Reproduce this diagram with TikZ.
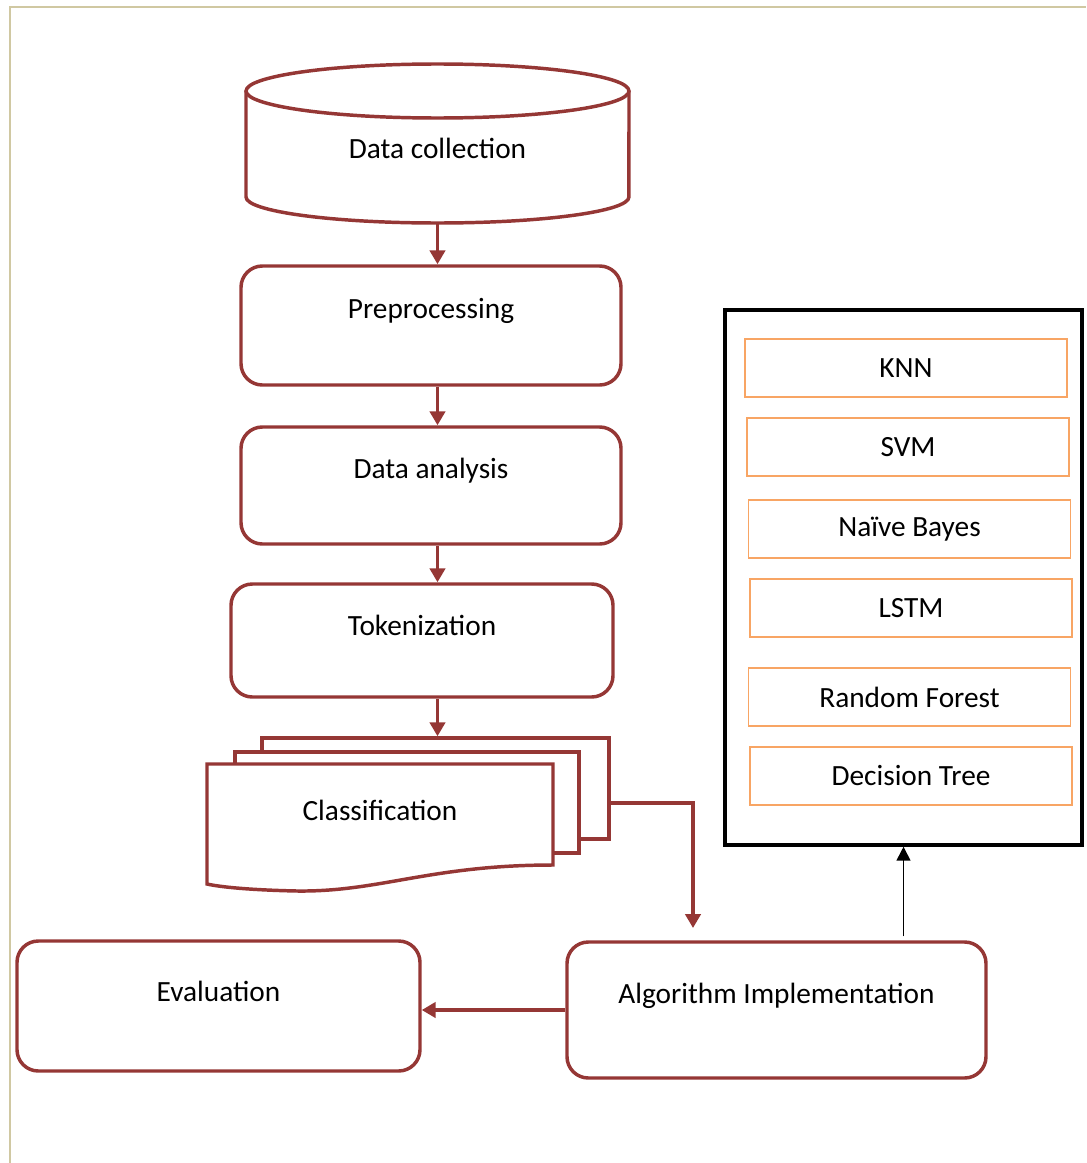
\documentclass[tikz,border=0pt]{standalone}
\usepackage{fontspec}
\setmainfont{Carlito}
\usetikzlibrary{arrows.meta}

\definecolor{dred}{RGB}{149,55,53}
\definecolor{lorange}{RGB}{248,165,100}
\definecolor{beige}{RGB}{208,200,162}

\begin{document}
\begin{tikzpicture}[x=0.75pt,y=-0.75pt,
    font=\fontsize{22}{26}\selectfont,
    dline/.style={draw=dred, line width=2.6pt},
    procbox/.style={dline, rounded corners=16pt, fill=white},
    sheet/.style={dline, fill=white, inner sep=0pt},
    algbox/.style={draw=lorange, line width=0.8pt, minimum width=241.5pt, minimum height=43.5pt},
    upper/.style={label={[yshift=11pt]center:#1}},
    flow/.style={dred, line width=2.6pt, -{Triangle[length=10.5pt,width=11.5pt]}},
    blackflow/.style={black, line width=1.2pt, -{Triangle[length=10.5pt,width=10.5pt]}}]
        \useasboundingbox (0,0) rectangle (1086,1163);
        \draw [beige, line width=1.5pt] (9.5,1163) -- (9.5,7.5) -- (1086,7.5);
        % data store
        \node [minimum width=287.25pt, minimum height=119.25pt] (dcol) at (437.5,143.5) {};
        \draw [dline, fill=white] (246,91) -- (246,197) arc [start angle=180, end angle=360, x radius=143.6pt, y radius=19.5pt] -- (629,91);
        \draw [dline] (437.5,91) ellipse [x radius=143.6pt, y radius=20.25pt];
        \node at (437.5,148) {Data collection};
        % pipeline
        \node [procbox, minimum width=285pt, minimum height=89.25pt, upper=Preprocessing] (prep) at (431,325.5) {};
        \node [procbox, minimum width=285pt, minimum height=87.75pt, upper=Data analysis] (ana) at (431,485.5) {};
        \node [procbox, minimum width=286.5pt, minimum height=84.75pt, upper=Tokenization] (tok) at (422,640.5) {};
        \node [sheet, minimum width=260.25pt, minimum height=75.75pt] (clsback) at (435.5,788.5) {};
        \node [sheet, minimum width=258pt, minimum height=75.75pt] (clsmid) at (407,802.5) {};
        \draw [dline, fill=white] (207,764) -- (553,764) -- (553,865)
            .. controls (430,865) and (380,892) .. (297,891)
            .. controls (250,890) and (220,887) .. (207,884) -- cycle;
        \node (clas) at (380,810) {Classification};
        \node [procbox, minimum width=302.25pt, minimum height=97.5pt, upper=Evaluation] (eval) at (218.5,1006) {};
        \node [procbox, minimum width=314.25pt, minimum height=102pt, upper=Algorithm Implementation] (alg) at (776.5,1010) {};
        % algorithms
        \node [draw, line width=2.6pt, minimum width=267.75pt, minimum height=401.25pt] (algs) at (903.5,577.5) {};
        \node [algbox] (knn) at (906,368) {KNN};
        \node [algbox] (svm) at (908,447) {SVM};
        \node [algbox] (nb) at (909.5,529) {Naïve Bayes};
        \node [algbox] (lstm) at (911,608) {LSTM};
        \node [algbox] (rf) at (909.5,697) {Random Forest};
        \node [algbox] (dt) at (911,776) {Decision Tree};
        \coordinate (algin) at (693,928);
        % arrows
        \draw [flow] (dcol.south) -- (dcol.south |- prep.north);
        \draw [flow] (prep.south -| dcol.south) -- (ana.north -| dcol.south);
        \draw [flow] (ana.south -| dcol.south) -- (tok.north -| dcol.south);
        \draw [flow] (tok.south -| dcol.south) -- (clsback.north -| dcol.south);
        \draw [flow] ([yshift=-10.9pt]clsback.east) -| (algin);
        \draw [flow] (alg.west) -- (alg.west -| eval.east);
        \draw [blackflow] ([yshift=3pt]alg.north -| algs.south) -- (algs.south);
\end{tikzpicture}
\end{document}
